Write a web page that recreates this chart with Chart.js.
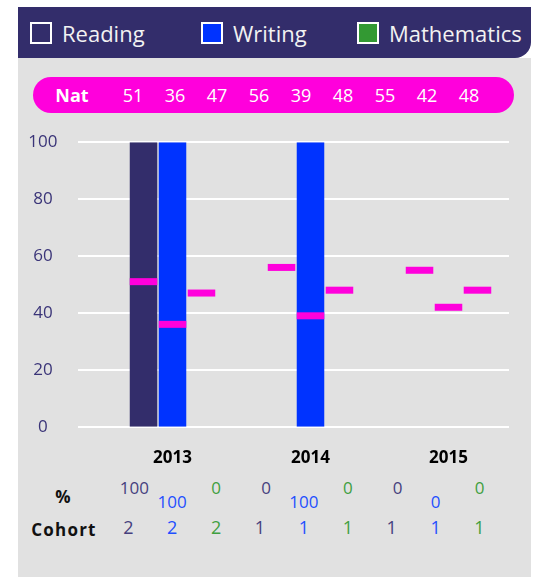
<!DOCTYPE html>
<html lang="en">
<head>
    <meta charset="UTF-8">
    <title>Reading Writing Mathematics</title>
    <script src="https://cdn.jsdelivr.net/npm/chart.js"></script>
    <style>
        body { margin: 0; background: #fff; font-family: 'Open Sans', sans-serif; overflow: hidden; }
        .panel { position: absolute; left: 18px; top: 58px; width: 513px; height: 540px; background: #e1e1e1; }
        .header { position: absolute; left: 18px; top: 7px; width: 513px; height: 51px; background: #332d6b; border-bottom-right-radius: 16px; }
        .legend-item { position: absolute; top: 0; height: 51px; display: flex; align-items: center; color: #f2f2f2; font-size: 22px; }
        .legend-box { width: 18px; height: 18px; border: 2px solid #fff; margin-right: 10px; }
        .pill { position: absolute; left: 33px; top: 77px; width: 481px; height: 36px; border-radius: 18px; background: #ff00dc; color: #fff; }
        .pill span { position: absolute; top: 0; line-height: 36px; text-align: center; width: 42px; font-size: 18px; }
        .pill .nat { font-weight: bold; }
        .cell { position: absolute; width: 44px; text-align: center; line-height: 20px; }
        .rowlabel { position: absolute; font-weight: bold; font-size: 17px; color: #111; width: 80px; text-align: center; line-height: 20px; }
        #chart { position: absolute; left: 0; top: 86px; }
    </style>
</head>
<body>
    <div class="panel"></div>
    <div class="header" id="legend"></div>
    <div class="pill" id="pill"></div>
    <div id="table"></div>
    <canvas id="chart" width="531" height="397"></canvas>

    <script>
        // data
        const years = ['2013', '2014', '2015'];
        const seriesNames = ['Reading', 'Writing', 'Mathematics'];
        const seriesColors = ['#332d6b', '#0033ff', '#339933'];
        const textColors = ['#463f7e', '#1f4fff', '#3f9f3f'];

        const reading = [100, 0, 0];
        const writing = [100, 100, 0];
        const maths = [0, 0, 0];

        const natReading = [51, 56, 55];
        const natWriting = [36, 39, 42];
        const natMaths = [47, 48, 48];

        const cohortReading = [2, 1, 1];
        const cohortWriting = [2, 1, 1];
        const cohortMaths = [2, 1, 1];

        const yTicks = [0, 20, 40, 60, 80, 100];

        const series = [reading, writing, maths];
        const nats = [natReading, natWriting, natMaths];
        const cohorts = [cohortReading, cohortWriting, cohortMaths];

        // legend in the header
        const legend = document.getElementById('legend');
        const legendLeft = [12, 183, 339];
        seriesNames.forEach(function (name, i) {
            const item = document.createElement('div');
            item.className = 'legend-item';
            item.style.left = legendLeft[i] + 'px';
            item.innerHTML = '<div class="legend-box" style="background:' + seriesColors[i] + '"></div>' + name;
            legend.appendChild(item);
        });

        // national values in the pink bar
        const pill = document.getElementById('pill');
        pill.innerHTML = '<span class="nat" style="left:18px">Nat</span>';
        years.forEach(function (y, j) {
            nats.forEach(function (arr, i) {
                const k = j * 3 + i;
                const s = document.createElement('span');
                s.style.left = (79 + 42 * k) + 'px';
                s.textContent = arr[j];
                pill.appendChild(s);
            });
        });

        // % and cohort rows under the chart
        const table = document.getElementById('table');
        function addText(cls, text, left, top, style) {
            const d = document.createElement('div');
            d.className = cls;
            d.textContent = text;
            d.style.left = left + 'px';
            d.style.top = top + 'px';
            Object.assign(d.style, style || {});
            table.appendChild(d);
        }
        addText('rowlabel', '%', 23, 487);
        addText('rowlabel', 'Cohort', 24, 520, { letterSpacing: '1.2px' });

        const pctTop = [478, 492, 478];
        const pctShift = [6, 0, 0];
        years.forEach(function (y, j) {
            series.forEach(function (arr, i) {
                const cx = 128.3 + 43.9 * (j * 3 + i);
                addText('cell', arr[j], cx - 22 + pctShift[i], pctTop[i], { color: textColors[i], fontSize: '17px' });
                addText('cell', cohorts[i][j], cx - 22, 517, { color: textColors[i], fontSize: '18px' });
            });
        });

        // white grid lines, drawn a bit wider than the bar area
        const gridPlugin = {
            id: 'gridLines',
            beforeDatasetsDraw(chart) {
                const ctx = chart.ctx;
                const area = chart.chartArea;
                const yScale = chart.scales.y;
                ctx.save();
                ctx.strokeStyle = '#ffffff';
                ctx.lineWidth = 2;
                yScale.ticks.forEach(function (t) {
                    const y = Math.round(yScale.getPixelForValue(t.value));
                    ctx.beginPath();
                    ctx.moveTo(area.left - 25.5, y);
                    ctx.lineTo(area.right - 8.5, y);
                    ctx.stroke();
                });
                ctx.restore();
            }
        };

        // national markers on top of each bar slot
        const natPlugin = {
            id: 'natMarkers',
            afterDatasetsDraw(chart) {
                const ctx = chart.ctx;
                const yScale = chart.scales.y;
                ctx.save();
                ctx.fillStyle = '#ff00dc';
                nats.forEach(function (arr, i) {
                    const meta = chart.getDatasetMeta(i);
                    meta.data.forEach(function (bar, j) {
                        const y = yScale.getPixelForValue(arr[j]);
                        ctx.fillRect(bar.x - bar.width / 2, y - 3.5, bar.width, 7);
                    });
                });
                ctx.restore();
            }
        };

        const ctx = document.getElementById('chart').getContext('2d');
        new Chart(ctx, {
            type: 'bar',
            data: {
                labels: years,
                datasets: series.map(function (arr, i) {
                    return {
                        label: seriesNames[i],
                        data: arr,
                        backgroundColor: seriesColors[i],
                        borderWidth: 0,
                        categoryPercentage: 0.63,
                        barPercentage: 0.95
                    };
                })
            },
            options: {
                responsive: false,
                animation: false,
                devicePixelRatio: 1,
                // the big y tick padding also pads the top and bottom of the plot
                layout: { padding: { top: 0, right: 13.5, left: 0, bottom: 0 } },
                plugins: {
                    legend: { display: false },
                    tooltip: { enabled: false }
                },
                scales: {
                    x: {
                        grid: { display: false, drawTicks: false },
                        border: { display: false },
                        ticks: {
                            color: '#000',
                            padding: 21,
                            font: { family: 'Open Sans', size: 17, weight: 'bold' }
                        },
                        afterFit: function (s) { s.height = 52.7; }
                    },
                    y: {
                        min: 0,
                        max: 100,
                        grid: { display: false, drawTicks: false },
                        border: { display: false },
                        afterBuildTicks: function (s) {
                            s.ticks = yTicks.map(function (v) { return { value: v }; });
                        },
                        ticks: {
                            color: '#3a3478',
                            padding: 46,
                            crossAlign: 'center',
                            font: { family: 'Open Sans', size: 17 }
                        },
                        afterFit: function (s) { s.width = 103.5; }
                    }
                }
            },
            plugins: [gridPlugin, natPlugin]
        });
    </script>
</body>
</html>
